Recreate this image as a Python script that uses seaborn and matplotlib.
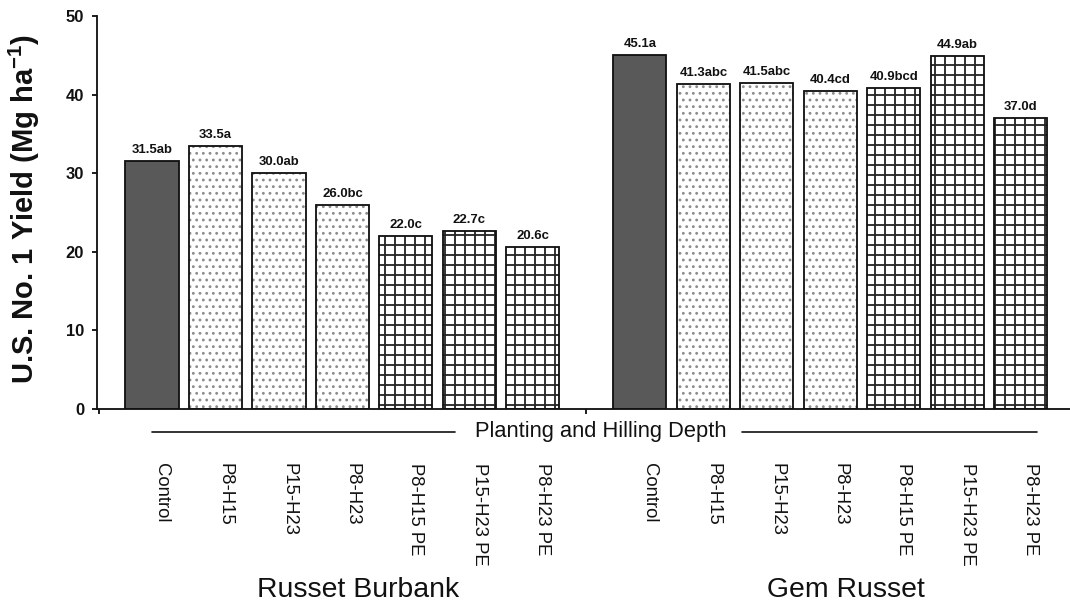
import numpy as np
import pandas as pd
import seaborn as sns
import matplotlib as mpl
import matplotlib.pyplot as plt
from matplotlib.transforms import ScaledTranslation, blended_transform_factory

# Treatments (planting/hilling depth) and cultivars
treatments = ["Control", "P8-H15", "P15-H23", "P8-H23", "P8-H15 PE", "P15-H23 PE", "P8-H23 PE"]
cultivars = ["Russet Burbank", "Gem Russet"]

# U.S. No. 1 yield (Mg/ha) and mean-separation letters
burbank_yield = [31.5, 33.5, 30.0, 26.0, 22.0, 22.7, 20.6]
burbank_letters = ["ab", "a", "ab", "bc", "c", "c", "c"]
gem_yield = [45.1, 41.3, 41.5, 40.4, 40.9, 44.9, 37.0]
gem_letters = ["a", "abc", "abc", "cd", "bcd", "ab", "d"]

# Fill style per treatment: solid control, dotted unmulched, grid for PE mulch
fill_style = ["solid", "dots", "dots", "dots", "grid", "grid", "grid"]

y_ticks = [0, 10, 20, 30, 40, 50]

group_step = 7.685  # distance between first bars of the two cultivars (bar units)

rows = []
for g, (cv, vals, lets) in enumerate(zip(cultivars, [burbank_yield, gem_yield],
                                         [burbank_letters, gem_letters])):
    for i, (t, v, l, s) in enumerate(zip(treatments, vals, lets, fill_style)):
        rows.append({"pos": i + g * group_step, "cultivar": cv, "treatment": t,
                     "yield": v, "letters": l, "style": s})
df = pd.DataFrame(rows).sort_values("pos").reset_index(drop=True)

sns.set_theme(style="ticks")
plt.rcParams["font.family"] = ["Liberation Sans", "DejaVu Sans"]
plt.rcParams["mathtext.fontset"] = "custom"
plt.rcParams["mathtext.rm"] = "Liberation Sans:bold"
plt.rcParams["mathtext.bf"] = "Liberation Sans:bold"
plt.rcParams["mathtext.default"] = "bf"
plt.rcParams["hatch.linewidth"] = 1.1

DPI = 120
fig = plt.figure(figsize=(1070 / DPI, 604 / DPI), dpi=DPI)
ax = fig.add_axes([97 / 1070, 1 - 409 / 604, 1 - 97 / 1070, (409 - 16) / 604])

sns.barplot(data=df, x="pos", y="yield", native_scale=True, width=0.835,
            color="white", edgecolor="#111111", linewidth=1.1,
            errorbar=None, ax=ax)


def style_hatch(patch, pattern, color, lw):
    patch.set_hatch(pattern)
    if hasattr(patch, "set_hatchcolor"):
        patch.set_hatchcolor(color)
    else:
        patch._hatch_color = mpl.colors.to_rgba(color)
    if hasattr(patch, "set_hatch_linewidth"):
        patch.set_hatch_linewidth(lw)
    else:
        patch._hatch_linewidth = lw


for patch, style in zip(ax.patches, df["style"]):
    patch.set_edgecolor("#111111")
    if style == "solid":
        patch.set_facecolor("#595959")
    elif style == "dots":
        patch.set_facecolor("white")
        style_hatch(patch, "...", "#8c8c8c", 0.9)
    else:
        patch.set_facecolor("white")
        style_hatch(patch, "++", "#262626", 1.1)

# Value + letter labels above bars
ax.bar_label(ax.containers[0],
             labels=[f"{v:.1f}{l}" for v, l in zip(df["yield"], df["letters"])],
             padding=3, fontsize=7.9, fontweight="bold", color="#111111")

# Axes limits and styling
ax.set_ylim(0, 50)
ax.set_xlim(-0.866, 14.457)
sns.despine(ax=ax)
for sp in ["left", "bottom"]:
    ax.spines[sp].set_linewidth(1.1)
    ax.spines[sp].set_color("#111111")

ax.set_yticks(y_ticks)
ax.set_yticklabels([str(t) for t in y_ticks], fontsize=9.9, fontweight="bold")
ax.tick_params(axis="y", direction="out", length=3.2, width=1.1, pad=4.5,
               colors="#111111")

# Treatment names under each bar
ax.set_xticks(df["pos"])
ax.set_xticklabels(df["treatment"], rotation=-90, fontsize=11.1,
                   ha="center", va="top", color="#111111")
ax.tick_params(axis="x", which="major", length=0, pad=32.5)
shift = ScaledTranslation(6 / 72, 0, fig.dpi_scale_trans)
for lbl in ax.get_xticklabels():
    lbl.set_transform(lbl.get_transform() + shift)

# Separator ticks at the axis start and between the cultivars
boundary = (6 + group_step) / 2
ax.set_xticks([-0.84, boundary], minor=True)
ax.tick_params(axis="x", which="minor", direction="out", length=3.2, width=1.1,
               colors="#111111")
ax.set_xlabel("")

ax.set_ylabel("U.S. No. 1 Yield (Mg ha$^{-1}$)", fontsize=17.5,
              fontweight="bold", color="#111111")
ax.yaxis.set_label_coords(-0.057, 0.51)

# "Planting and Hilling Depth" bracket
tr = blended_transform_factory(ax.transData, ax.transAxes)
y_br = -0.0585
ax.text(7.07, y_br, "Planting and Hilling Depth", transform=tr,
        ha="center", va="center", fontsize=13.1, color="#111111")
ax.plot([0, 4.77], [y_br, y_br], transform=tr, color="#111111", lw=1.0,
        clip_on=False)
ax.plot([9.29, 13.94], [y_br, y_br], transform=tr, color="#111111", lw=1.0,
        clip_on=False)

# Cultivar names
for g, cv in enumerate(cultivars):
    ax.text(g * group_step + 3 + 0.25, -0.46, cv, transform=tr,
            ha="center", va="center", fontsize=17, color="#111111")

fig.savefig("out.png", dpi=DPI)
